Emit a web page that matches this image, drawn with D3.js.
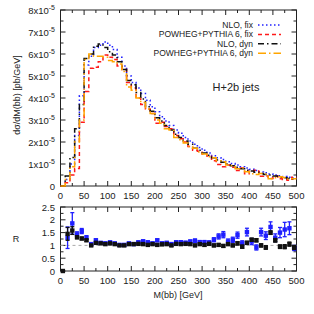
<!DOCTYPE html>
<html>
  <head>
    <meta charset="utf-8" />
    <script src="https://d3js.org/d3.v7.min.js"></script>
    <style>
      body { margin: 0; background: #fff; }
      text { font-family: "Liberation Sans", Arial, sans-serif; fill: #222; }
    </style>
  </head>
  <body>
    <script>
      // bins of 10 GeV, 0..500
      const binEdges = d3.range(0, 510, 10);

      // dσ/dM in units of 1e-5 pb/GeV
      const nloFix = [0, 0.3, 1.0, 2.3, 4.1, 5.5, 5.9, 6.3, 6.4, 6.55, 6.4, 6.2, 5.85, 5.45, 5.0, 4.7, 4.45, 4.2, 3.9, 3.6, 3.38, 3.15, 2.95, 2.75, 2.55, 2.4, 2.2, 2.05, 1.9, 1.75, 1.62, 1.5, 1.38, 1.28, 1.2, 1.1, 1.02, 0.95, 0.88, 0.82, 0.76, 0.7, 0.64, 0.6, 0.55, 0.5, 0.47, 0.43, 0.4, 0.36];
      const powFix = [0, 0.15, 0.5, 0.8, 2.9, 4.3, 5.35, 5.4, 5.65, 5.95, 5.85, 5.75, 5.45, 5.3, 4.7, 4.45, 4.0, 3.7, 3.5, 3.3, 2.85, 2.9, 2.7, 2.6, 2.3, 2.15, 2.0, 1.8, 1.62, 1.58, 1.45, 1.36, 1.15, 0.98, 0.88, 0.95, 0.85, 0.7, 0.82, 0.56, 0.68, 0.72, 0.44, 0.46, 0.34, 0.45, 0.33, 0.3, 0.26, 0.4];
      const nloDyn = [0, 0.45, 1.3, 2.6, 3.7, 5.8, 6.0, 6.35, 6.45, 6.3, 6.1, 5.95, 5.65, 5.3, 4.8, 4.6, 4.25, 3.95, 3.6, 3.4, 3.1, 2.95, 2.75, 2.55, 2.35, 2.2, 2.05, 1.9, 1.72, 1.62, 1.5, 1.4, 1.28, 1.18, 1.08, 1.0, 0.92, 0.85, 0.78, 0.72, 0.68, 0.62, 0.57, 0.52, 0.5, 0.45, 0.4, 0.37, 0.34, 0.31];
      const powDyn = [0, 0.3, 0.88, 2.0, 3.0, 5.75, 6.0, 5.9, 5.9, 5.85, 5.7, 5.65, 5.55, 5.2, 4.5, 4.35, 4.0, 3.8, 3.5, 3.3, 3.0, 2.85, 2.6, 2.55, 2.2, 2.1, 1.95, 1.8, 1.72, 1.55, 1.45, 1.33, 1.28, 1.15, 1.1, 0.95, 0.92, 0.78, 0.82, 0.65, 0.56, 0.52, 0.57, 0.55, 0.33, 0.38, 0.42, 0.39, 0.32, 0.33];

      // ratio R per bin, with errors
      const rFix = [null, 1.3, 1.86, 1.43, 1.56, 1.3, 1.05, 1.2, 1.1, 1.08, 1.12, 1.08, 1.02, 1.02, 1.08, 1.05, 1.12, 1.16, 1.12, 1.08, 1.2, 1.08, 1.1, 1.05, 1.12, 1.12, 1.1, 1.15, 1.18, 1.12, 1.12, 1.1, 1.22, 1.35, 1.42, 1.15, 1.22, 1.4, 1.08, 1.52, 1.15, 0.92, 1.52, 1.38, 1.72, 1.3, 1.5, 1.62, 1.67, 0.9];
      const rFixErr = [0, 0.42, 0.42, 0.1, 0.1, 0.08, 0.05, 0.05, 0.04, 0.04, 0.04, 0.04, 0.04, 0.04, 0.04, 0.05, 0.05, 0.05, 0.05, 0.05, 0.05, 0.05, 0.05, 0.06, 0.06, 0.06, 0.06, 0.06, 0.07, 0.07, 0.07, 0.08, 0.08, 0.1, 0.12, 0.1, 0.1, 0.12, 0.1, 0.15, 0.12, 0.1, 0.15, 0.15, 0.2, 0.15, 0.2, 0.28, 0.25, 0.1];
      const rDyn = [0, 1.45, 1.58, 1.32, 1.27, 1.2, 1.0, 1.1, 1.08, 1.05, 1.08, 1.05, 1.0, 1.0, 1.05, 1.05, 1.06, 1.05, 1.02, 1.05, 1.02, 1.04, 1.05, 1.0, 1.06, 1.05, 1.06, 1.05, 1.0, 1.05, 1.02, 1.06, 1.0, 1.02, 0.98, 1.05, 1.0, 1.08, 0.95, 1.1, 1.22, 1.2, 1.0, 0.92, 1.5, 1.2, 0.95, 0.95, 1.05, 0.92];
      const rDynErr = [0, 0.25, 0.15, 0.06, 0.05, 0.04, 0.03, 0.03, 0.03, 0.03, 0.03, 0.03, 0.03, 0.03, 0.03, 0.03, 0.03, 0.03, 0.03, 0.03, 0.04, 0.04, 0.04, 0.04, 0.04, 0.04, 0.04, 0.04, 0.04, 0.04, 0.05, 0.05, 0.05, 0.05, 0.05, 0.05, 0.05, 0.06, 0.06, 0.06, 0.06, 0.06, 0.06, 0.07, 0.07, 0.07, 0.07, 0.08, 0.08, 0.08];

      const series = [
        { name: "NLO, fix", vals: nloFix, color: "#2222ff", dash: "1.5,2.5" },
        { name: "POWHEG+PYTHIA 6, fix", vals: powFix, color: "#ff1a1a", dash: "4,3" },
        { name: "NLO, dyn", vals: nloDyn, color: "#111", dash: "6,3,1.5,3" },
        { name: "POWHEG+PYTHIA 6, dyn", vals: powDyn, color: "#ffa500", dash: "8,3,1.5,3" },
      ];

      const W = 314, H = 314;
      const x = d3.scaleLinear().domain([0, 500]).range([60.5, 296.5]);
      const y = d3.scaleLinear().domain([0, 8]).range([186, 10]);
      const yr = d3.scaleLinear().domain([0, 2.5]).range([271, 207]);

      const svg = d3.select("body").append("svg").attr("width", W).attr("height", H);

      function frame(ys, majors, minors, xlabels, ylabel) {
        const g = svg.append("g");
        const [y0, y1] = ys.range();
        // ticks on x (bottom and top, pointing inward)
        d3.range(0, 501, 25).forEach(function (v) {
          const len = v % 50 === 0 ? 5 : 3;
          g.append("line").attr("x1", x(v)).attr("x2", x(v)).attr("y1", y0).attr("y2", y0 - len).attr("stroke", "#222");
          g.append("line").attr("x1", x(v)).attr("x2", x(v)).attr("y1", y1).attr("y2", y1 + len).attr("stroke", "#222");
        });
        minors.forEach(function (v) {
          g.append("line").attr("x1", x(0)).attr("x2", x(0) + 3).attr("y1", ys(v)).attr("y2", ys(v)).attr("stroke", "#222");
          g.append("line").attr("x1", x(500)).attr("x2", x(500) - 3).attr("y1", ys(v)).attr("y2", ys(v)).attr("stroke", "#222");
        });
        majors.forEach(function (v) {
          g.append("line").attr("x1", x(0)).attr("x2", x(0) + 5).attr("y1", ys(v)).attr("y2", ys(v)).attr("stroke", "#222");
          g.append("line").attr("x1", x(500)).attr("x2", x(500) - 5).attr("y1", ys(v)).attr("y2", ys(v)).attr("stroke", "#222");
          const t = g.append("text").attr("x", 55).attr("y", ys(v) + 3.5).attr("text-anchor", "end").style("font-size", "9.5px");
          ylabel(t, v);
        });
        if (xlabels) {
          d3.range(0, 501, 50).forEach(function (v) {
            g.append("text").attr("x", x(v)).attr("y", y0 + 13).attr("text-anchor", "middle").style("font-size", "9.5px").text(v);
          });
        }
        g.append("rect").attr("x", x(0)).attr("y", y1).attr("width", x(500) - x(0)).attr("height", y0 - y1)
          .attr("fill", "none").attr("stroke", "#222").attr("stroke-width", 1);
      }

      // main panel
      frame(y, d3.range(0, 9), d3.range(0.5, 8, 1), true, function (t, v) {
        if (v === 0) { t.text("0"); return; }
        t.append("tspan").text(v + "x10");
        t.append("tspan").attr("dy", -4).style("font-size", "7px").text("-5");
      });

      const step = d3.line().curve(d3.curveStepAfter).x(function (d) { return x(d[0]); }).y(function (d) { return y(d[1]); });

      series.forEach(function (s) {
        const pts = s.vals.map(function (v, i) { return [binEdges[i], v]; });
        pts.push([500, s.vals[s.vals.length - 1]]);
        svg.append("path").attr("d", step(pts)).attr("fill", "none")
          .attr("stroke", s.color).attr("stroke-width", 1.5).attr("stroke-dasharray", s.dash);
      });

      // legend
      const leg = svg.append("g");
      series.forEach(function (s, i) {
        const ly = 25 + i * 9.4;
        leg.append("text").attr("x", 253).attr("y", ly + 3).attr("text-anchor", "end").style("font-size", "8.5px").text(s.name);
        leg.append("line").attr("x1", 258).attr("x2", 281).attr("y1", ly).attr("y2", ly)
          .attr("stroke", s.color).attr("stroke-width", 1.5).attr("stroke-dasharray", s.dash);
      });

      svg.append("text").attr("x", 236).attr("y", 91).attr("text-anchor", "middle").style("font-size", "11px").text("H+2b jets");

      svg.append("text").attr("transform", "translate(20,95)rotate(-90)").attr("text-anchor", "middle")
        .style("font-size", "9px").text("dσ/dM(bb) [pb/GeV]");

      // ratio panel
      frame(yr, d3.range(0, 2.51, 0.5), d3.range(0.25, 2.5, 0.5), true, function (t, v) { t.text(v); });

      svg.append("line").attr("x1", x(0)).attr("x2", x(500)).attr("y1", yr(1)).attr("y2", yr(1))
        .attr("stroke", "#aaa").attr("stroke-dasharray", "3,3");

      function drawRatio(vals, errs, color) {
        const g = svg.append("g");
        vals.forEach(function (v, i) {
          if (v === null) return;
          const cx = x(binEdges[i] + 5);
          if (errs[i] > 0) {
            g.append("line").attr("x1", cx).attr("x2", cx).attr("y1", yr(v - errs[i])).attr("y2", yr(v + errs[i])).attr("stroke", color).attr("stroke-width", 1.3);
            [v - errs[i], v + errs[i]].forEach(function (e) {
              g.append("line").attr("x1", cx - 2).attr("x2", cx + 2).attr("y1", yr(e)).attr("y2", yr(e)).attr("stroke", color).attr("stroke-width", 1.3);
            });
          }
          g.append("rect").attr("x", cx - 2.2).attr("y", yr(v) - 2.2).attr("width", 4.4).attr("height", 4.4).attr("fill", color);
        });
      }
      drawRatio(rFix, rFixErr, "#1f1fff");
      drawRatio(rDyn, rDynErr, "#111");

      svg.append("text").attr("x", 16).attr("y", 242).attr("text-anchor", "middle").style("font-size", "9px").text("R");
      svg.append("text").attr("x", 178).attr("y", 298).attr("text-anchor", "middle").style("font-size", "9px").text("M(bb) [GeV]");
    </script>
  </body>
</html>
